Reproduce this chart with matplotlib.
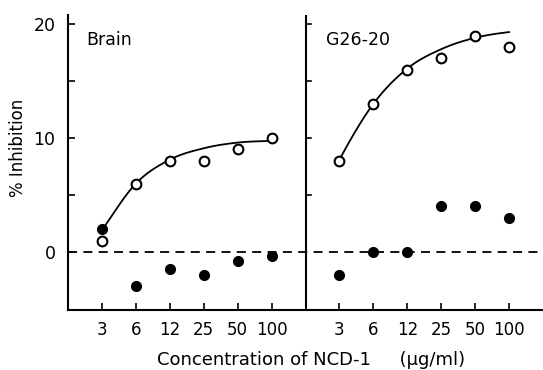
import numpy as np
import matplotlib
matplotlib.use("Agg")
import matplotlib.pyplot as plt

conc_labels = ["3", "6", "12", "25", "50", "100"]

brain_open = [1, 6, 8, 8, 9, 10]
brain_filled = [2, -3, -1.5, -2, -0.8, -0.4]
g26_open = [8, 13, 16, 17, 19, 18]
g26_filled = [-2, 0, 0, 4, 4, 3]

# fitted curves (position index, value)
brain_curve_x = [-1, 0, 1, 2, 3, 4, 5, 6]
brain_curve_y = [-2.5, 1.9, 6.0, 8.1, 9.1, 9.6, 9.75, 9.85]
brain_curve_range = (-0.1, 5.3)
g26_curve_x = [-1, 0, 1, 2, 3, 4, 5, 6]
g26_curve_y = [2.0, 8.1, 13.0, 16.1, 17.8, 18.8, 19.3, 19.5]
g26_curve_range = (-0.2, 5.3)


def smooth(xs, ys, lo, hi, n=30):
    xs = np.asarray(xs, float); ys = np.asarray(ys, float)
    P = np.column_stack([xs, ys])
    out = []
    for i in range(1, len(P) - 2):
        p0, p1, p2, p3 = P[i - 1], P[i], P[i + 1], P[i + 2]
        t = np.linspace(0, 1, n, endpoint=False)[:, None]
        seg = 0.5 * ((2 * p1) + (-p0 + p2) * t + (2 * p0 - 5 * p1 + 4 * p2 - p3) * t ** 2
                     + (-p0 + 3 * p1 - 3 * p2 + p3) * t ** 3)
        out.append(seg)
    out.append(P[-2][None, :])
    out = np.vstack(out)
    m = (out[:, 0] >= lo) & (out[:, 0] <= hi)
    return out[m, 0], out[m, 1]


fig = plt.figure(figsize=(5.43, 3.70), dpi=100)
ax = fig.add_axes([68 / 543, 1 - 310 / 370, 1 - 68 / 543, (310 - 15) / 370])

left_pos = np.arange(6)
right_pos = np.arange(7, 13)
offset = 7

ax.set_xlim(-1, 13)
ax.set_ylim(-5.1, 20.8)

ax.axhline(0, color="black", lw=1.3, ls=(0, (5, 3.5)), zorder=1)
ax.axvline(6, color="black", lw=1.5, zorder=2)

bx, by = smooth(brain_curve_x, brain_curve_y, *brain_curve_range)
ax.plot(bx, by, color="black", lw=1.3, zorder=2)
gx, gy = smooth(g26_curve_x, g26_curve_y, *g26_curve_range)
ax.plot(gx + offset, gy, color="black", lw=1.3, zorder=2)

ms = 7
ax.plot(left_pos, brain_filled, "o", color="black", ms=ms, zorder=3)
ax.plot(left_pos, brain_open, "o", mfc="white", mec="black", mew=1.5, ms=ms, zorder=4)
ax.plot(right_pos, g26_filled, "o", color="black", ms=ms, zorder=3)
ax.plot(right_pos, g26_open, "o", mfc="white", mec="black", mew=1.5, ms=ms, zorder=4)

# right-panel y ticks on divider
for v in [5, 10, 15, 20]:
    ax.plot([6, 6.15], [v, v], color="black", lw=1.2, zorder=2, clip_on=False)

ax.set_xticks(list(left_pos) + list(right_pos))
ax.set_xticklabels(conc_labels + conc_labels, fontsize=12)
ax.set_yticks([0, 5, 10, 15, 20])
ax.set_yticklabels(["0", "", "10", "", "20"], fontsize=12.5)
ax.tick_params(axis="x", direction="in", length=5, width=1.2, pad=8)
ax.tick_params(axis="y", direction="in", length=5, width=1.2, pad=9)

for s in ["top", "right"]:
    ax.spines[s].set_visible(False)
for s in ["left", "bottom"]:
    ax.spines[s].set_linewidth(1.5)

ax.set_ylabel("% Inhibition", fontsize=12)
ax.yaxis.set_label_coords((27 - 68) / 475, (310 - 148) / 295)

ax.text(-0.45, 18.6, "Brain", fontsize=12.5, ha="left", va="center")
ax.text(6.6, 18.6, "G26-20", fontsize=12.5, ha="left", va="center")

fig.text(311 / 543, 1 - 360 / 370, "Concentration of NCD-1     (\u03bcg/ml)",
         fontsize=13, ha="center", va="center")

fig.savefig("out.png", dpi=100)
